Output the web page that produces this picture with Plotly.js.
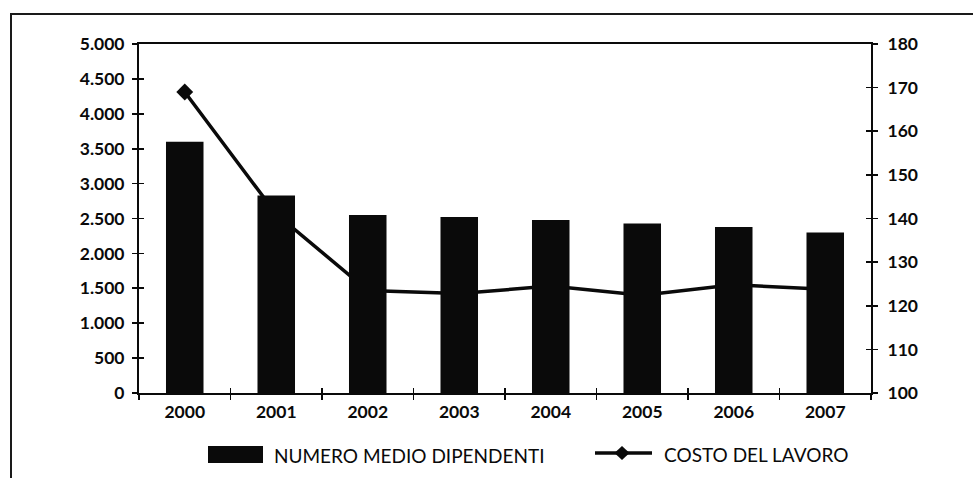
<!DOCTYPE html>
<html>
<head>
<meta charset="utf-8">
<script src="https://cdn.plot.ly/plotly-3.0.1.min.js"></script>
<style>
  html, body { margin: 0; padding: 0; background: #fff; }
  #wrap { position: relative; width: 973px; height: 478px; }
  #chart { width: 973px; height: 478px; }
  #frame { position: absolute; left: 10px; top: 13px; width: 963px; height: 465px;
           border-top: 2px solid #1a1a1a; border-left: 2px solid #1a1a1a; pointer-events: none; box-sizing: border-box; }
</style>
</head>
<body>
<div id="wrap">
  <div id="chart"></div>
  <div id="frame"></div>
</div>
<script>
// Years on the category axis
const years = ['2000', '2001', '2002', '2003', '2004', '2005', '2006', '2007'];
// Average number of employees (left axis)
const dipendenti = [3600, 2830, 2550, 2520, 2480, 2430, 2380, 2300];
// Labour cost index (right axis)
const costoLavoro = [169, 141, 123.5, 122.8, 124.5, 122.4, 124.8, 123.8];
// Series names
const nameBars = 'NUMERO MEDIO DIPENDENTI';
const nameLine = 'COSTO DEL LAVORO';

const ink = '#0a0a0a';
const M = { l: 139, r: 102, t: 44, b: 85 };
const W = 973 - M.l - M.r, H = 478 - M.t - M.b;
const px = x => (x - M.l) / W;          // page x -> paper x
const py = y => (478 - M.b - y) / H;    // page y -> paper y

const tickFont = { family: 'Lato, "Open Sans", sans-serif', size: 17.5, color: ink, weight: 'bold' };

// Line goes on the base y axis so that the bars (overlaying axis) are drawn over it
const lineTrace = {
  type: 'scatter', mode: 'lines+markers', x: years, y: costoLavoro,
  xaxis: 'x', yaxis: 'y', name: nameLine,
  line: { color: ink, width: 3.5 },
  marker: { symbol: 'diamond', size: 13, color: ink },
  showlegend: false, hoverinfo: 'x+y'
};
const barTrace = {
  type: 'bar', x: years, y: dipendenti, xaxis: 'x', yaxis: 'y2', name: nameBars,
  marker: { color: ink, line: { width: 0 } }, width: 0.41,
  showlegend: false, hoverinfo: 'x+y'
};
// Empty carriers so the tick-only overlay axes get drawn
const tickCarriers = [
  { type: 'scatter', mode: 'none', x: [], y: [], xaxis: 'x2', yaxis: 'y', showlegend: false, hoverinfo: 'skip' },
  { type: 'scatter', mode: 'none', x: [], y: [], xaxis: 'x', yaxis: 'y3', showlegend: false, hoverinfo: 'skip' },
  { type: 'scatter', mode: 'none', x: [], y: [], xaxis: 'x', yaxis: 'y4', showlegend: false, hoverinfo: 'skip' }
];

// Custom legend: symbols as shapes, labels as annotations
const shapes = [
  { type: 'rect', xref: 'paper', yref: 'paper', x0: px(208), x1: px(263), y0: py(463), y1: py(446),
    fillcolor: ink, line: { width: 0 } },
  { type: 'line', xref: 'paper', yref: 'paper', x0: px(595), x1: px(652), y0: py(453), y1: py(453),
    line: { color: ink, width: 3.5 } },
  { type: 'path', xref: 'paper', yref: 'paper', fillcolor: ink, line: { color: ink, width: 0 },
    path: `M ${px(614.5)} ${py(453)} L ${px(622)} ${py(446)} L ${px(629.5)} ${py(453)} L ${px(622)} ${py(460)} Z` }
];
const legendFont = { family: 'Lato, "Open Sans", sans-serif', size: 19, color: ink };
const annotations = [
  { xref: 'paper', yref: 'paper', x: px(272), y: py(455), text: nameBars, showarrow: false,
    xanchor: 'left', yanchor: 'middle', font: legendFont },
  { xref: 'paper', yref: 'paper', x: px(662), y: py(454), text: nameLine, showarrow: false,
    xanchor: 'left', yanchor: 'middle', font: legendFont }
];

const tickStyle = { ticklen: 5, tickwidth: 1.6, tickcolor: ink };

const layout = {
  width: 973, height: 478,
  margin: M,
  paper_bgcolor: '#fff', plot_bgcolor: '#fff',
  separators: ',.',
  showlegend: false,
  xaxis: Object.assign({
    type: 'category', categoryarray: years, range: [-0.5, 7.5], tickson: 'boundaries', ticks: 'outside',
    showline: true, linecolor: ink, linewidth: 2, mirror: true,
    showgrid: false, zeroline: false, tickfont: tickFont, ticklabelstandoff: 2
  }, tickStyle),
  // second copy of the category axis: inner half of the crossing ticks
  xaxis2: Object.assign({
    type: 'category', overlaying: 'x', anchor: 'y', side: 'bottom', categoryarray: years,
    range: [-0.5, 7.5], tickson: 'boundaries', ticks: 'inside',
    showticklabels: false, showline: false, showgrid: false, zeroline: false
  }, tickStyle),
  yaxis: Object.assign({
    side: 'right', range: [100, 180], dtick: 10, tick0: 100, ticks: 'outside',
    showline: true, linecolor: ink, linewidth: 2,
    showgrid: false, zeroline: false, tickfont: tickFont, ticklabelstandoff: 6
  }, tickStyle),
  yaxis2: Object.assign({
    overlaying: 'y', side: 'left', range: [0, 5000], dtick: 500, tick0: 0,
    tickformat: ',d', ticks: 'outside',
    showline: true, linecolor: ink, linewidth: 2,
    showgrid: false, zeroline: false, tickfont: tickFont, ticklabelstandoff: 4
  }, tickStyle),
  // inner halves of the crossing ticks on both value axes
  yaxis3: Object.assign({
    overlaying: 'y', side: 'left', range: [0, 5000], dtick: 500, tick0: 0, ticks: 'inside',
    showticklabels: false, showline: false, showgrid: false, zeroline: false
  }, tickStyle),
  yaxis4: Object.assign({
    overlaying: 'y', side: 'right', range: [100, 180], dtick: 10, tick0: 100, ticks: 'inside',
    showticklabels: false, showline: false, showgrid: false, zeroline: false
  }, tickStyle),
  shapes: shapes,
  annotations: annotations
};

Plotly.newPlot('chart', [lineTrace, barTrace].concat(tickCarriers), layout,
  { displayModeBar: false, staticPlot: true });
</script>
</body>
</html>
